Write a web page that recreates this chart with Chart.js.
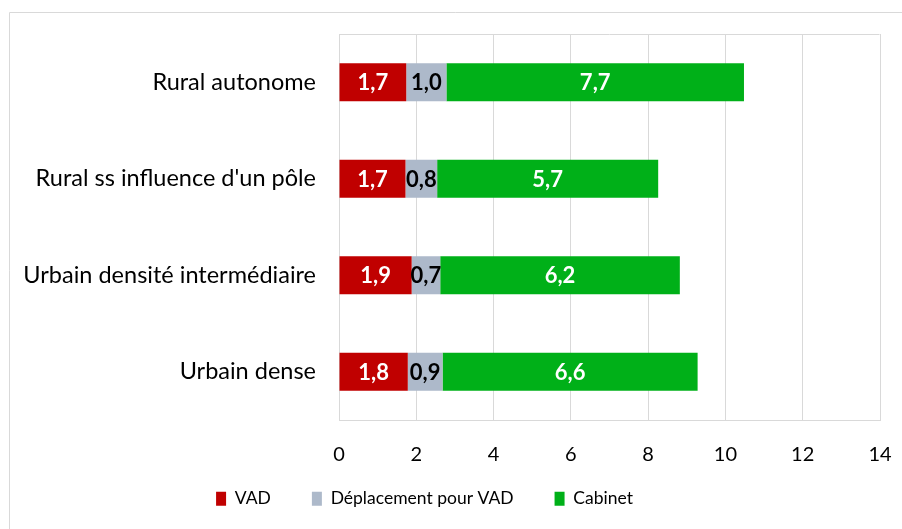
<!DOCTYPE html>
<html><head><meta charset="utf-8">
<script src="https://cdn.jsdelivr.net/npm/chart.js@4/dist/chart.umd.min.js"></script>
<style>html,body{margin:0;padding:0;background:#fff;}#wrap{width:902px;height:529px;position:relative;}</style>
</head><body><div id="wrap"><canvas id="c" width="902" height="529"></canvas></div>
<script>
const categories = ["Rural autonome", "Rural ss influence d'un pôle", "Urbain densité intermédiaire", "Urbain dense"];
const seriesNames = ["VAD", "Déplacement pour VAD", "Cabinet"];
const vad = [1.74, 1.72, 1.88, 1.78];
const deplacement = [1.04, 0.82, 0.74, 0.90];
const cabinet = [7.70, 5.72, 6.20, 6.60];
const xTicks = [0, 2, 4, 6, 8, 10, 12, 14];

const colors = ["#C00000", "#ADB9CA", "#00B018"];
const labelColors = ["#FFFFFF", "#000000", "#FFFFFF"];
const FONT = "Lato";

const frame = {
  id: 'frame',
  afterLayout(chart) {
    const lg = chart.legend;
    if (lg) { lg.top -= 21; lg.bottom -= 21; }
  },
  beforeDraw(chart) {
    const ctx = chart.ctx;
    ctx.save();
    ctx.strokeStyle = "#D9D9D9"; ctx.lineWidth = 1;
    ctx.beginPath();
    ctx.moveTo(9.5, 529); ctx.lineTo(9.5, 12.5); ctx.lineTo(902, 12.5);
    ctx.stroke();
    ctx.restore();
  },
  afterDraw(chart) {
    const ctx = chart.ctx, a = chart.chartArea;
    ctx.save();
    ctx.strokeStyle = "#D9D9D9"; ctx.lineWidth = 1;
    ctx.beginPath();
    ctx.moveTo(Math.round(a.left) + 0.5, Math.round(a.top) + 0.5);
    ctx.lineTo(Math.round(a.right) - 0.5, Math.round(a.top) + 0.5);
    ctx.stroke();
    ctx.restore();
  }
};

const valueLabels = {
  id: 'valueLabels',
  afterDatasetsDraw(chart) {
    const ctx = chart.ctx;
    ctx.save();
    ctx.font = "bold 22px " + FONT;
    ctx.textAlign = "center";
    ctx.textBaseline = "middle";
    chart.data.datasets.forEach((ds, i) => {
      const meta = chart.getDatasetMeta(i);
      meta.data.forEach((el, j) => {
        const p = el.getProps(['x', 'y', 'base'], true);
        ctx.fillStyle = labelColors[i];
        ctx.fillText(ds.data[j].toFixed(1).replace('.', ','), (p.x + p.base) / 2, p.y + 1);
      });
    });
    ctx.restore();
  }
};

new Chart(document.getElementById('c'), {
  type: 'bar',
  data: {
    labels: categories,
    datasets: [
      { label: seriesNames[0], data: vad, backgroundColor: colors[0] },
      { label: seriesNames[1], data: deplacement, backgroundColor: colors[1] },
      { label: seriesNames[2], data: cabinet, backgroundColor: colors[2] }
    ]
  },
  options: {
    indexAxis: 'y',
    responsive: false,
    animation: false,
    devicePixelRatio: 1,
    categoryPercentage: 1,
    barPercentage: 0.395,
    layout: { padding: { left: -31, right: 22, top: 34, bottom: -9.5 } },
    plugins: {
      legend: {
        position: 'bottom',
        labels: { boxWidth: 10, boxHeight: 14, padding: 41, color: '#000', font: { family: FONT, size: 17.5 } }
      },
      tooltip: { enabled: false }
    },
    scales: {
      x: {
        stacked: true, min: 0, max: 14,
        afterBuildTicks(s) { s.ticks = xTicks.map(v => ({ value: v })); },
        afterFit(s) { s.height = 50; s.paddingRight = 0; s.paddingLeft = 0; },
        grid: { color: '#D9D9D9', drawTicks: false },
        border: { color: '#D9D9D9' },
        ticks: { padding: 23, color: '#000', font: { family: FONT, size: 20 } }
      },
      y: {
        stacked: true,
        afterFit(s) { s.width = 370; s.paddingTop = 0; s.paddingBottom = 0; },
        grid: { display: false, drawTicks: false },
        border: { display: false },
        ticks: { padding: 23, color: '#000', font: { family: FONT, size: 23.5 } }
      }
    }
  },
  plugins: [frame, valueLabels]
});
</script></body></html>
